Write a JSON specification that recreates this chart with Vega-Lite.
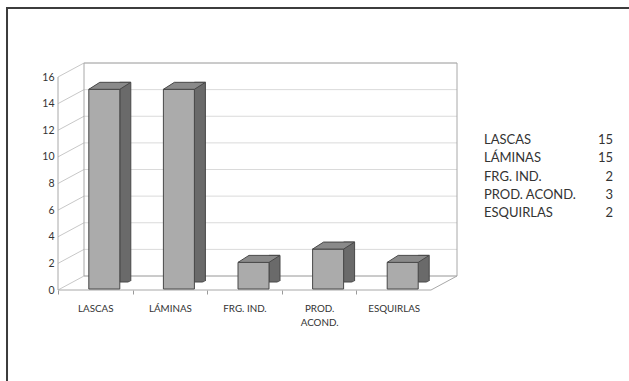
{
  "$schema": "https://vega.github.io/schema/vega-lite/v6.json",
  "width": 373,
  "height": 213,
  "autosize": {"type": "none"},
  "padding": {"left": 84, "top": 63, "right": 172, "bottom": 105},
  "background": "white",
  "config": {"view": {"stroke": null}, "font": "Lato", "text": {"font": "Lato"}},
  "datasets": {
    "bars": [
      {"categoria": "LASCAS", "n": 15},
      {"categoria": "LÁMINAS", "n": 15},
      {"categoria": "FRG. IND.", "n": 2},
      {"categoria": "PROD. ACOND.", "n": 3},
      {"categoria": "ESQUIRLAS", "n": 2}
    ],
    "levels": [{"v": 0}, {"v": 2}, {"v": 4}, {"v": 6}, {"v": 8}, {"v": 10}, {"v": 12}, {"v": 14}, {"v": 16}]
  },
  "layer": [
    {
      "layer": [
        {
          "data": {"values": [{}]},
          "layer": [
            {
              "mark": {"type": "rect", "fillOpacity": 0, "stroke": "#3c3c3c", "strokeWidth": 2},
              "encoding": {
                "x": {"datum": -1.032, "type": "quantitative", "scale": {"domain": [0, 5], "nice": false}, "axis": null, "title": null},
                "x2": {"datum": 12},
                "y": {"datum": 20.13, "type": "quantitative", "scale": {"domain": [0, 16], "nice": false}, "title": null},
                "y2": {"datum": -20}
              }
            },
            {
              "data": {"name": "levels"},
              "mark": {"type": "rule", "color": "#dadada", "strokeWidth": 1},
              "encoding": {
                "x": {"datum": 0, "type": "quantitative", "scale": {"domain": [0, 5], "nice": false}, "axis": null, "title": null},
                "x2": {"datum": 5},
                "y": {"field": "v", "type": "quantitative", "scale": {"domain": [0, 16], "nice": false}, "title": null}
              }
            },
            {
              "data": {"name": "levels"},
              "mark": {"type": "point", "shape": "M0,0L-1,0.5385", "size": 2704, "filled": false, "stroke": "#c8c8c8", "strokeWidth": 1, "opacity": 1},
              "encoding": {
                "x": {"datum": 0, "type": "quantitative", "scale": {"domain": [0, 5], "nice": false}, "axis": null, "title": null},
                "y": {"field": "v", "type": "quantitative", "scale": {"domain": [0, 16], "nice": false}, "title": null}
              }
            },
            {
              "mark": {"type": "rect", "fillOpacity": 0, "stroke": "#a8a8a8", "strokeWidth": 1},
              "encoding": {
                "x": {"datum": 0, "type": "quantitative", "scale": {"domain": [0, 5], "nice": false}, "axis": null, "title": null},
                "x2": {"datum": 5},
                "y": {"datum": 0, "type": "quantitative", "scale": {"domain": [0, 16], "nice": false}, "title": null},
                "y2": {"datum": 16}
              }
            },
            {
              "mark": {"type": "rule", "color": "#a8a8a8", "strokeWidth": 1, "xOffset": -26, "yOffset": 14, "y2Offset": 14},
              "encoding": {
                "x": {"datum": 0, "type": "quantitative", "scale": {"domain": [0, 5], "nice": false}, "axis": null, "title": null},
                "y": {"datum": 0, "type": "quantitative", "scale": {"domain": [0, 16], "nice": false}, "title": null},
                "y2": {"datum": 16}
              }
            },
            {
              "mark": {"type": "rule", "color": "#a8a8a8", "strokeWidth": 1, "xOffset": -26, "x2Offset": -26, "yOffset": 14},
              "encoding": {
                "x": {"datum": 0, "type": "quantitative", "scale": {"domain": [0, 5], "nice": false}, "axis": null, "title": null},
                "x2": {"datum": 5},
                "y": {"datum": 0, "type": "quantitative", "scale": {"domain": [0, 16], "nice": false}, "title": null}
              }
            },
            {
              "mark": {"type": "point", "shape": "M0,0L-1,0.5385", "size": 2704, "filled": false, "stroke": "#a8a8a8", "strokeWidth": 1, "opacity": 1},
              "encoding": {
                "x": {"datum": 5, "type": "quantitative", "scale": {"domain": [0, 5], "nice": false}, "axis": null, "title": null},
                "y": {"datum": 0, "type": "quantitative", "scale": {"domain": [0, 16], "nice": false}, "title": null}
              }
            }
          ]
        },
        {
          "data": {"name": "bars"},
          "layer": [
            {
              "mark": {"type": "bar", "width": 11, "xOffset": 4, "yOffset": 6, "y2Offset": 12, "fill": "#6a6a6a", "stroke": "#484848", "strokeWidth": 1},
              "encoding": {
                "x": {
                  "field": "categoria", "type": "nominal", "sort": null, "title": null,
                  "scale": {"paddingInner": 0.5, "paddingOuter": 0.25},
                  "axis": {
                    "title": null, "domain": false, "grid": false, "ticks": true, "tickSize": 4, "tickColor": "#9a9a9a",
                    "offset": 14, "position": -26, "bandPosition": 0.5, "tickOffset": -37.3, "labelOffset": 37.3,
                    "labelPadding": 9, "labelFontSize": 9.8, "labelColor": "#333333", "labelAngle": 0, "labelLineHeight": 14,
                    "labelOverlap": false,
                    "labelExpr": "length(datum.label) > 10 ? split(datum.label, ' ') : datum.label"
                  }
                },
                "y": {
                  "field": "n", "type": "quantitative", "title": null,
                  "scale": {"domain": [0, 16], "nice": false},
                  "axis": {
                    "title": null, "domain": false, "grid": false, "ticks": false, "tickSize": 0,
                    "offset": 26, "position": 14, "labelPadding": 4, "labelFontSize": 10.5, "labelColor": "#333333", "tickCount": 8
                  }
                }
              }
            },
            {
              "mark": {"type": "point", "shape": "M0,0L11,-7L12.6,-7L12.6,0.8L0,0.8Z", "size": 4, "filled": true, "fill": "white", "strokeWidth": 0, "opacity": 1, "xOffset": -1.5, "yOffset": 12},
              "encoding": {
                "x": {"field": "categoria", "type": "nominal", "sort": null, "title": null},
                "y": {"datum": 0, "type": "quantitative", "title": null}
              }
            },
            {
              "mark": {"type": "bar", "width": 31, "xOffset": -17, "yOffset": 13, "y2Offset": 12, "fill": "#ababab", "stroke": "#484848", "strokeWidth": 1},
              "encoding": {
                "x": {"field": "categoria", "type": "nominal", "sort": null, "title": null},
                "y": {"field": "n", "type": "quantitative", "title": null}
              }
            },
            {
              "mark": {"type": "point", "shape": "M-15.5,0L15.5,0L26.5,-7L-4.5,-7Z", "size": 4, "filled": true, "fill": "#8a8a8a", "stroke": "#484848", "strokeWidth": 1, "opacity": 1, "xOffset": -17, "yOffset": 13},
              "encoding": {
                "x": {"field": "categoria", "type": "nominal", "sort": null, "title": null},
                "y": {"field": "n", "type": "quantitative", "title": null}
              }
            }
          ]
        }
      ],
      "resolve": {"scale": {"x": "independent"}, "axis": {"x": "independent"}}
    },
    {
      "data": {"name": "bars"},
      "layer": [
        {
          "mark": {"type": "text", "align": "left", "baseline": "middle", "fontSize": 13, "color": "#333333"},
          "encoding": {
            "x": {"datum": 5.362, "type": "quantitative", "scale": {"domain": [0, 5], "nice": false}, "axis": null, "title": null},
            "y": {"field": "categoria", "type": "nominal", "sort": null, "scale": {"type": "point", "range": [77, 150], "padding": 0}, "axis": null, "title": null},
            "text": {"field": "categoria"}
          }
        },
        {
          "mark": {"type": "text", "align": "right", "baseline": "middle", "fontSize": 13, "color": "#333333"},
          "encoding": {
            "x": {"datum": 7.091, "type": "quantitative", "scale": {"domain": [0, 5], "nice": false}, "axis": null, "title": null},
            "y": {"field": "categoria", "type": "nominal", "sort": null, "scale": {"type": "point", "range": [77, 150], "padding": 0}, "axis": null, "title": null},
            "text": {"field": "n"}
          }
        }
      ]
    }
  ],
  "resolve": {"scale": {"x": "independent", "y": "independent"}, "axis": {"x": "independent", "y": "independent"}}
}
